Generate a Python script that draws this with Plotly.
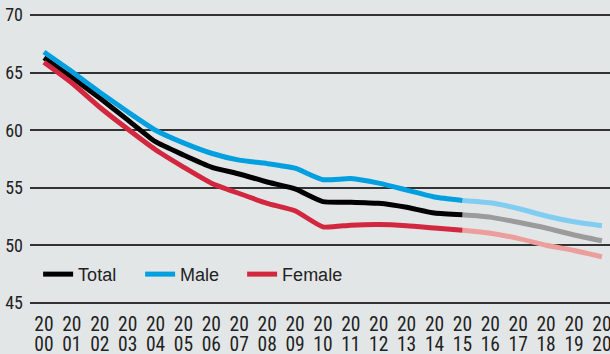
import plotly.graph_objects as go

# Years and observed values (2000-2015) plus projections (2015-2020)
years = list(range(2000, 2021))
total = [66.3, 64.6, 62.8, 60.9, 59.0, 57.85, 56.8, 56.2, 55.5, 54.9, 53.8,
         53.75, 53.65, 53.3, 52.8, 52.65, 52.45, 52.0, 51.5, 50.9, 50.4]
male = [66.8, 65.1, 63.3, 61.6, 60.0, 58.9, 58.0, 57.4, 57.1, 56.7, 55.7,
        55.8, 55.4, 54.8, 54.2, 53.9, 53.7, 53.2, 52.55, 52.05, 51.7]
female = [65.9, 64.1, 62.0, 60.1, 58.3, 56.8, 55.4, 54.5, 53.65, 53.0, 51.6,
          51.75, 51.8, 51.7, 51.5, 51.3, 51.05, 50.6, 50.0, 49.55, 49.0]
last_actual = 2015
y_ticks = [45, 50, 55, 60, 65, 70]
# year labels are split over two rows: century on top, two digits below
century_labels = [str(y)[:2] for y in years]
decade_labels = [str(y)[2:] for y in years]

series = [
    ("Total", total, "#000000", "#9b9b9b"),
    ("Male", male, "#009fe0", "#80cdf1"),
    ("Female", female, "#d1283f", "#eb9e9b"),
]

fig = go.Figure()
cut = years.index(last_actual)
# projections first so the solid lines sit on top
for name, vals, col, light in series:
    fig.add_trace(go.Scatter(
        x=years[cut:], y=vals[cut:], mode="lines", showlegend=False,
        line=dict(color=light, width=5, shape="spline", smoothing=0.5),
        hoverinfo="skip"))
for name, vals, col, light in series:
    fig.add_trace(go.Scatter(
        x=years[:cut + 1], y=vals[:cut + 1], mode="lines", name=name,
        line=dict(color=col, width=5, shape="spline", smoothing=0.5)))
# empty trace to anchor the second row of year labels
fig.add_trace(go.Scatter(x=[], y=[], xaxis="x2", showlegend=False, hoverinfo="skip"))

bg = "#e3e6e7"
narrow = "Roboto Condensed, Liberation Sans Narrow, DejaVu Sans Condensed, Roboto, sans-serif"
x_range = [1999.5, 2020.29]
x_common = dict(range=x_range, tickmode="array", tickvals=years,
                showgrid=False, zeroline=False, showline=False, ticks="",
                tickangle=0, automargin=False, ticklabeloverflow="allow",
                tickfont=dict(size=19.5))
fig.update_layout(
    width=610, height=354,
    margin=dict(l=30, r=0, t=14, b=50),
    paper_bgcolor=bg, plot_bgcolor=bg,
    font=dict(family=narrow, size=17, color="#222222"),
    showlegend=True,
    legend=dict(orientation="h", x=0.014, y=0.102, xanchor="left", yanchor="middle",
                bgcolor="rgba(0,0,0,0)", entrywidth=57, entrywidthmode="pixels",
                font=dict(family="Liberation Sans, Arial, sans-serif", size=18,
                          color="#222222")),
    xaxis=dict(ticktext=century_labels, ticklabelstandoff=6, **x_common),
    xaxis2=dict(ticktext=decade_labels, ticklabelstandoff=26, overlaying="x",
                side="bottom", anchor="y", **x_common),
    yaxis=dict(range=[44.9, 70.1], tickvals=y_ticks, showgrid=True,
               gridcolor="#333333", gridwidth=1.5, zeroline=False,
               showline=False, ticks="", ticklabelstandoff=6, automargin=False,
               tickfont=dict(size=18)),
)

fig.write_html("out.html")
